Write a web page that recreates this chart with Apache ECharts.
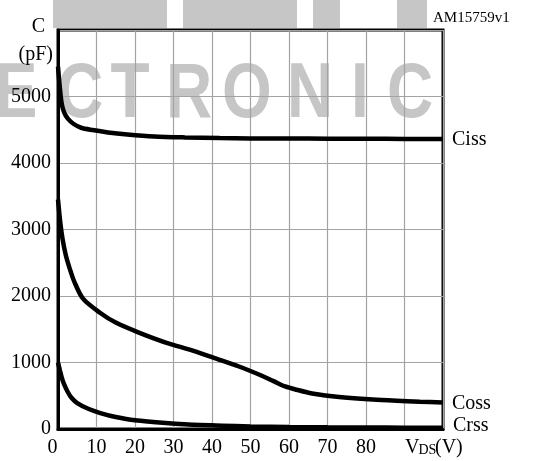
<!DOCTYPE html>
<html>
<head>
<meta charset="utf-8">
<script src="https://cdn.jsdelivr.net/npm/echarts@6/dist/echarts.min.js"></script>
<style>html,body{margin:0;padding:0;background:#fff;}#c{width:542px;height:461px;}</style>
</head>
<body>
<div id="c"></div>
<script>
// Data (VDS in V, capacitance in pF)
var cissV = [0, 0.5, 1, 1.6, 2.5, 4, 6, 9, 13, 18, 25, 33, 42, 50, 60, 70, 80, 90, 100];
var cissC = [5450, 5120, 4880, 4760, 4670, 4590, 4530, 4495, 4460, 4430, 4400, 4385, 4375, 4370, 4368, 4366, 4364, 4362, 4360];

var cossV = [0, 0.6, 1.2, 2, 3, 4.2, 6.5, 11, 15, 21, 28, 35, 42, 47, 52.5, 56, 59, 62, 66, 73, 84, 94, 100];
var cossC = [3450, 3100, 2850, 2620, 2420, 2220, 1960, 1745, 1600, 1450, 1300, 1180, 1040, 940, 812, 720, 640, 590, 535, 482, 436, 410, 400];

var crssV = [0, 0.5, 1, 1.6, 2.5, 3.5, 5, 8, 11, 15, 20, 28, 37, 50, 60, 70, 80, 90, 100];
var crssC = [1000, 880, 770, 670, 560, 470, 390, 300, 240, 180, 130, 90, 60, 38, 30, 25, 22, 20, 20];

var xTicks = [0, 10, 20, 30, 40, 50, 60, 70, 80];
var yTicks = [0, 1000, 2000, 3000, 4000, 5000];

function pairs(xs, ys) { return xs.map(function (x, i) { return [x, ys[i]]; }); }

var serif = '"Liberation Serif", "DejaVu Serif", serif';
var wmColor = '#c6c6c6';
var letters = [['E', 16], ['C', 80], ['T', 130], ['R', 189], ['O', 247], ['N', 310], ['I', 360], ['C', 410]];
var wm = letters.map(function (l) {
  return { type: 'text', x: l[1], y: 95, scaleX: 0.82, z: -10,
    style: { text: l[0], fill: wmColor, font: 'bold 78px "Liberation Sans", Arial, sans-serif', textAlign: 'center', textVerticalAlign: 'middle' } };
});
var bars = [[53, 167], [183, 297], [313, 340], [397, 427]].map(function (b) {
  return { type: 'rect', z: -10, shape: { x: b[0], y: 0, width: b[1] - b[0], height: 28 }, style: { fill: wmColor } };
});

function txt(s, x, y, size, align) {
  return { type: 'text', x: x, y: y, z: 10, style: { text: s, font: size + 'px ' + serif, fill: '#000', textAlign: align || 'left', textVerticalAlign: 'middle' } };
}

var chart = echarts.init(document.getElementById('c'), null, { renderer: 'canvas' });
var lineStyle = { color: '#000', width: 4.5 };
function ser(name, data) {
  return { name: name, type: 'line', data: data, showSymbol: false, smooth: 0.3,
    lineStyle: lineStyle, itemStyle: { color: '#000' }, z: 5, animation: false, clip: true };
}
chart.setOption({
  animation: false,
  grid: { left: 58, top: 30, width: 385, height: 399, show: true, borderColor: '#000', borderWidth: 3, backgroundColor: 'transparent' },
  xAxis: {
    type: 'value', min: 0, max: 100, interval: 10,
    axisLine: { show: true, lineStyle: { color: '#000', width: 3 } },
    axisTick: { show: false },
    splitLine: { show: true, lineStyle: { color: '#a3a3a3', width: 1.2 } },
    axisLabel: {
      margin: 9, color: '#000', fontFamily: serif, fontSize: 20,
      formatter: function (v) { if (v === 0) return '{z|0}'; return xTicks.indexOf(v) >= 0 ? String(v) : ''; },
      rich: { z: { fontFamily: serif, fontSize: 20, color: '#000', padding: [0, 11, 0, 0] } }
    }
  },
  yAxis: {
    type: 'value', min: 0, max: 6000, interval: 1000,
    axisLine: { show: true, lineStyle: { color: '#000', width: 3 } },
    axisTick: { show: false },
    splitLine: { show: true, lineStyle: { color: '#a3a3a3', width: 1.2 } },
    axisLabel: {
      margin: 7, color: '#000', fontFamily: serif, fontSize: 20,
      formatter: function (v) { return yTicks.indexOf(v) >= 0 ? String(v) : ''; }
    }
  },
  series: [ser('Ciss', pairs(cissV, cissC)), ser('Coss', pairs(cossV, cossC)), ser('Crss', pairs(crssV, crssC))],
  graphic: wm.concat(bars).concat([
    txt('C', 45, 27, 20, 'right'),
    txt('(pF)', 53, 55, 20, 'right'),
    txt('AM15759v1', 433, 18, 15, 'left'),
    txt('Ciss', 452, 140, 20, 'left'),
    txt('Coss', 452, 404, 20, 'left'),
    txt('Crss', 453, 426, 20, 'left'),
    txt('V', 405, 448, 20, 'left'),
    txt('DS', 418.5, 450, 14, 'left'),
    txt('(V)', 435, 448, 20, 'left')
  ])
});
</script>
</body>
</html>
